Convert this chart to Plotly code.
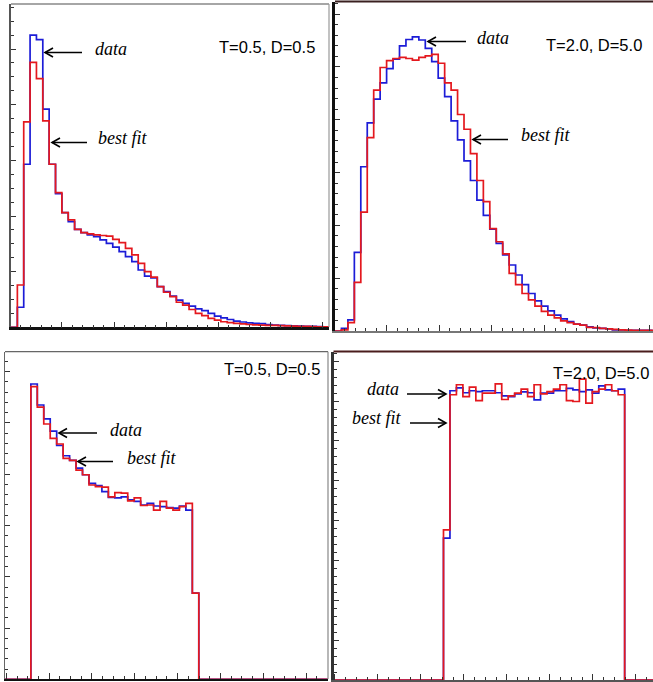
import plotly.graph_objects as go

# ---- histogram contents (50 bins per panel) ----
tl_data = [0, 0.36, 2.93, 5.25, 5.17, 3.92, 2.93, 2.40, 2.06, 1.90,
           1.76, 1.70, 1.66, 1.63, 1.57, 1.51, 1.44, 1.36, 1.27, 1.18,
           1.03, 0.92, 0.89, 0.73, 0.64, 0.56, 0.49, 0.43, 0.38, 0.33,
           0.30, 0.25, 0.20, 0.17, 0.14, 0.11, 0.095, 0.08, 0.07, 0.065,
           0.05, 0.04, 0.035, 0.03, 0.025, 0.02, 0.018, 0.015, 0.012, 0.01]
tl_fit = [0, 0.76, 3.69, 4.76, 4.47, 3.71, 2.93, 2.42, 2.06, 1.93,
          1.76, 1.70, 1.68, 1.66, 1.65, 1.64, 1.58, 1.52, 1.42, 1.30,
          1.15, 1.00, 0.90, 0.73, 0.63, 0.55, 0.45, 0.40, 0.32, 0.25,
          0.21, 0.16, 0.13, 0.10, 0.083, 0.07, 0.06, 0.05, 0.045, 0.04,
          0.035, 0.035, 0.03, 0.025, 0.02, 0.018, 0.015, 0.012, 0.01, 0.008]

tr_data = [0, 0.05, 0.21, 1.49, 3.11, 3.94, 4.39, 4.70, 4.97, 5.15,
           5.40, 5.52, 5.57, 5.51, 5.35, 5.10, 4.79, 4.44, 3.98, 3.62,
           3.22, 2.85, 2.48, 2.19, 1.93, 1.66, 1.44, 1.25, 1.06, 0.88,
           0.71, 0.57, 0.47, 0.38, 0.30, 0.23, 0.18, 0.13, 0.11, 0.08,
           0.06, 0.05, 0.04, 0.02, 0.02, 0.013, 0.012, 0.01, 0.01, 0.008]
tr_fit = [0, 0.02, 0.16, 0.92, 2.25, 3.66, 4.56, 4.99, 5.12, 5.16,
          5.18, 5.16, 5.13, 5.18, 5.21, 5.24, 5.07, 4.70, 4.56, 4.10,
          3.82, 3.36, 2.85, 2.45, 1.94, 1.69, 1.46, 1.09, 0.88, 0.71,
          0.59, 0.47, 0.37, 0.30, 0.25, 0.19, 0.16, 0.13, 0.11, 0.07,
          0.065, 0.05, 0.04, 0.03, 0.02, 0.015, 0.012, 0.01, 0.01, 0.01]

bl_data = [0, 0, 0, 0, 5.76, 5.35, 5.08, 4.84, 4.56, 4.36,
           4.27, 4.12, 3.99, 3.82, 3.78, 3.66, 3.55, 3.54, 3.56, 3.50,
           3.47, 3.40, 3.43, 3.38, 3.37, 3.35, 3.34, 3.38, 3.30, 1.68,
           0, 0, 0, 0, 0, 0, 0, 0, 0, 0,
           0, 0, 0, 0, 0, 0, 0, 0, 0, 0]
bl_fit = [0, 0, 0, 0, 5.71, 5.31, 4.98, 4.70, 4.59, 4.31,
          4.27, 4.08, 3.99, 3.79, 3.76, 3.75, 3.56, 3.64, 3.63, 3.48,
          3.54, 3.39, 3.40, 3.30, 3.47, 3.34, 3.30, 3.37, 3.43, 1.68,
          0, 0, 0, 0, 0, 0, 0, 0, 0, 0,
          0, 0, 0, 0, 0, 0, 0, 0, 0, 0]

br_data = [0, 0, 0, 0, 0, 0, 0, 0, 0, 0,
           0, 0, 0, 0, 0, 0, 0, 3.56, 7.26, 7.33,
           7.21, 7.26, 7.24, 7.26, 7.26, 7.21, 7.13, 7.11, 7.18, 7.23,
           7.21, 7.03, 7.20, 7.20, 7.26, 7.26, 7.32, 7.28, 7.24, 7.28,
           7.20, 7.38, 7.28, 7.26, 7.30, 0, 0, 0, 0, 0]
br_fit = [0, 0, 0, 0, 0, 0, 0, 0, 0, 0,
          0, 0, 0, 0, 0, 0, 0, 3.77, 7.16, 7.41,
          7.11, 7.35, 7.01, 7.20, 7.20, 7.43, 7.04, 7.13, 7.20, 7.30,
          7.11, 7.41, 7.18, 7.24, 7.30, 7.41, 7.01, 6.99, 7.55, 6.95,
          7.24, 7.30, 7.41, 7.26, 7.16, 0, 0, 0, 0, 0]

panel_labels = ["T=0.5, D=0.5", "T=2.0, D=5.0", "T=0.5, D=0.5", "T=2.0, D=5.0"]

W, H = 653, 682
BLUE = "rgb(28,28,215)"
RED = "rgb(228,24,30)"


def px(x):
    return x / W


def py(y):
    return 1 - y / H


def step_xy(vals):
    xs = list(range(len(vals) + 1))
    ys = list(vals) + [vals[-1]]
    return xs, ys


fig = go.Figure()

panels = [
    # (data, fit, axis suffix)
    (tl_data, tl_fit, ""),
    (tr_data, tr_fit, "2"),
    (bl_data, bl_fit, "3"),
    (br_data, br_fit, "4"),
]
for data, fit, s in panels:
    for vals, col in ((data, BLUE), (fit, RED)):
        xs, ys = step_xy(vals)
        fig.add_trace(go.Scatter(
            x=xs, y=ys, mode="lines", line=dict(color=col, width=1.7, shape="hv"),
            xaxis="x" + s, yaxis="y" + s, showlegend=False, hoverinfo="skip"))


def xaxis(dom, rng, tick0, dtick, nminor, linecolor, linewidth):
    return dict(domain=dom, range=rng, showgrid=False, zeroline=False,
                showticklabels=False, ticks="inside", ticklen=6, tickwidth=1,
                tickcolor="#333", tickmode="linear", tick0=tick0, dtick=dtick,
                minor=dict(ticks="inside", ticklen=3, tickwidth=1, tickcolor="#333",
                           dtick=dtick / nminor, tick0=tick0, showgrid=False),
                showline=True, linecolor=linecolor, linewidth=linewidth, mirror=False,
                fixedrange=True)


def yaxis(dom, rng, nminor, anchor, linecolor, linewidth):
    return dict(domain=dom, range=rng, showgrid=False, zeroline=False,
                showticklabels=False, ticks="inside", ticklen=5, tickwidth=1,
                tickcolor="#333", tickmode="linear", tick0=0, dtick=1,
                minor=dict(ticks="inside", ticklen=3, tickwidth=1, tickcolor="#333",
                           dtick=1 / nminor, tick0=0, showgrid=False),
                showline=True, linecolor=linecolor, linewidth=linewidth, mirror=False,
                anchor=anchor, fixedrange=True)


fig.update_layout(
    width=W, height=H, margin=dict(l=0, r=0, t=0, b=0),
    paper_bgcolor="white", plot_bgcolor="white",
    xaxis=xaxis([px(11), px(329)], [0, 50], -0.2, 8.2, 5, "#111", 2.5) | dict(anchor="y"),
    yaxis=yaxis([py(327.3), py(4)], [0, 5.81], 4, "x", "#555", 1.5),
    xaxis2=xaxis([px(335), 1], [0, 49.3], -0.15, 8.16, 5, "#777", 2) | dict(anchor="y2"),
    yaxis2=yaxis([py(331), py(2)], [0, 6.23], 5, "x2", "#111", 3),
    xaxis3=xaxis([px(5), px(328)], [0, 50], 0.2, 6.63, 4, "#111", 2) | dict(anchor="y3"),
    yaxis3=yaxis([py(679.3), py(351.7)], [0, 6.39], 5, "x3", "#666", 1.2),
    xaxis4=xaxis([px(333.5), 1], [0, 49.38], 0.2, 6.65, 4, "#555", 2) | dict(anchor="y4"),
    yaxis4=yaxis([py(680), py(351.7)], [0, 8.24], 5, "x4", "#333", 3),
)

# ---- panel frames (top / right edges) ----
shapes = []


def seg(x0, y0, x1, y1, color, width):
    shapes.append(dict(type="line", xref="paper", yref="paper",
                       x0=px(x0), y0=py(y0), x1=px(x1), y1=py(y1),
                       line=dict(color=color, width=width)))


seg(11, 4, 329, 4, "#888", 1.5)
seg(329, 4, 329, 327, "#999", 1.2)
seg(335, 1.5, 653, 1.5, "#3a2020", 2)
seg(5, 351.7, 328, 351.7, "#666", 1.2)
seg(328, 351.7, 328, 679, "#888", 1.2)
seg(333.5, 351.5, 653, 351.5, "#4a1c1c", 2)


# ---- arrows ----
def arrow(x_tail, x_tip, y):
    d = 1 if x_tip > x_tail else -1
    shapes.append(dict(type="line", xref="paper", yref="paper",
                       x0=px(x_tail), y0=py(y), x1=px(x_tip), y1=py(y),
                       line=dict(color="black", width=1.6)))
    path = "M {} {} L {} {} L {} {}".format(
        px(x_tip - d * 8), py(y - 4.5), px(x_tip), py(y), px(x_tip - d * 8), py(y + 4.5))
    shapes.append(dict(type="path", xref="paper", yref="paper", path=path,
                       line=dict(color="black", width=1.6)))


arrow(82, 45, 52.5)
arrow(87, 52, 142.5)
arrow(466, 428, 41.5)
arrow(508, 473, 139.5)
arrow(97, 59, 433)
arrow(113, 78, 461.5)
arrow(407, 446, 394)
arrow(410, 446, 423)

fig.update_layout(shapes=shapes)

# ---- text ----
serif = dict(family="Liberation Serif, Times New Roman, serif", size=18, color="black")
sans = dict(family="Liberation Sans, Arial, sans-serif", size=16.5, color="black")
notes = [
    (93, 49, "<i>data</i>", serif, "left"),
    (96, 138, "<i>best fit</i>", serif, "left"),
    (475, 38, "<i>data</i>", serif, "left"),
    (519, 135, "<i>best fit</i>", serif, "left"),
    (108, 430, "<i>data</i>", serif, "left"),
    (125, 458, "<i>best fit</i>", serif, "left"),
    (401, 389, "<i>data</i>", serif, "right"),
    (403, 418, "<i>best fit</i>", serif, "right"),
    (317, 47, panel_labels[0], sans, "right"),
    (644, 45, panel_labels[1], sans, "right"),
    (322, 369, panel_labels[2], sans, "right"),
    (651, 373, panel_labels[3], sans, "right"),
]
for x, y, t, f, xa in notes:
    fig.add_annotation(x=px(x), y=py(y), xref="paper", yref="paper", text=t,
                       showarrow=False, font=f, xanchor=xa, yanchor="middle")

fig.write_html("out.html")
